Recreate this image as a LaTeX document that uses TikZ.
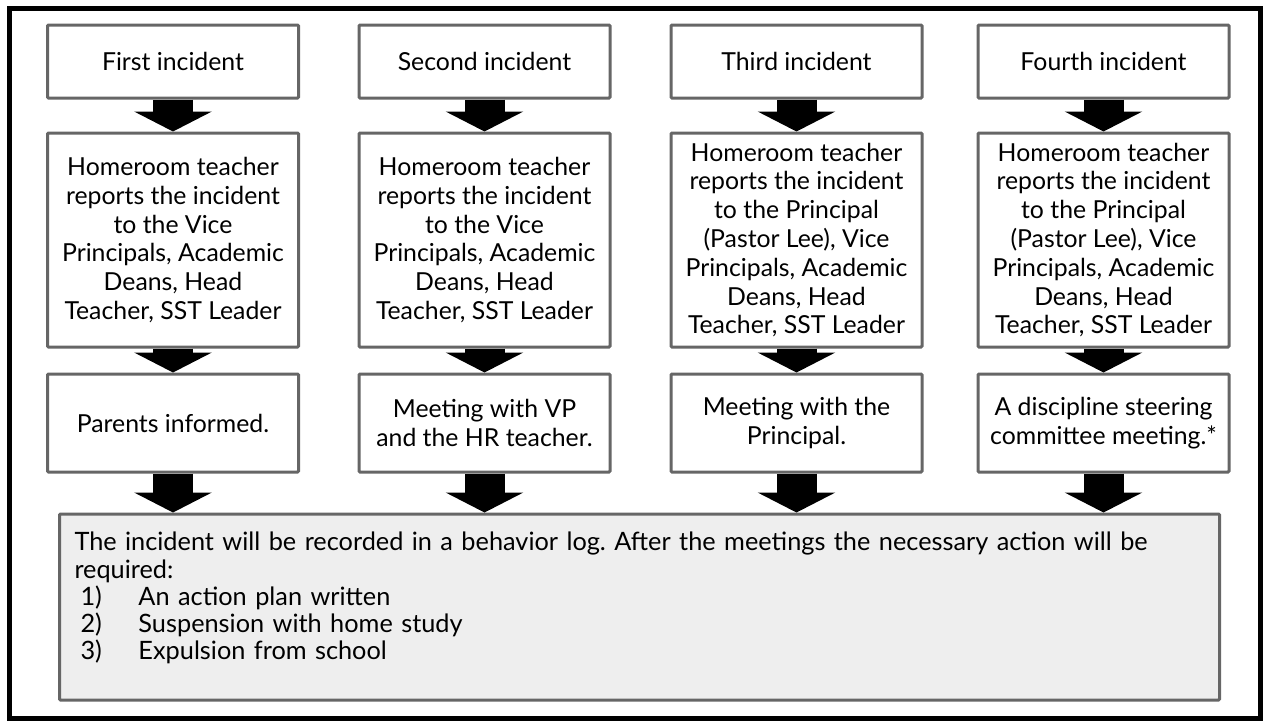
\documentclass[tikz,border=0pt]{standalone}
\usepackage{fontspec}
\setmainfont{Lato}
\usepackage{tikz}
\usetikzlibrary{arrows.meta, positioning}
\definecolor{boxgray}{RGB}{102,102,102}
\definecolor{logfill}{RGB}{238,238,238}
\newcommand{\colfont}{\fontsize{24.8}{28.8}\selectfont}
\newcommand{\logfont}{\fontsize{25.3}{27.2}\selectfont}
\frenchspacing

\begin{document}
\begin{tikzpicture}[
    x=1pt, y=-1pt,
    incbox/.style={rectangle, draw=boxgray, line width=3pt, fill=white, rounded corners=1pt, minimum width=251pt, inner sep=3pt, align=center, font=\colfont},
    logbox/.style={rectangle, draw=boxgray, line width=3pt, fill=logfill, rounded corners=1pt, minimum height=186pt, text width=1130pt, inner xsep=15pt, align=left, font=\logfont},
    blockarrow/.style={draw=black, line width=40pt, -{Triangle[width=77pt, length=20pt]}},
]
    \useasboundingbox (0,0) rectangle (1263,721);
    \draw[line width=4.5pt] (9.5,8.5) rectangle (1260.5,718.5);

    \node[incbox, minimum height=73pt] (i1) at (173,61.5) {First incident};
    \node[incbox, minimum height=73pt] (i2) at (484.5,61.5) {Second incident};
    \node[incbox, minimum height=73pt] (i3) at (796.5,61.5) {Third incident};
    \node[incbox, minimum height=73pt] (i4) at (1103.5,61.5) {Fourth incident};

    \node[incbox, minimum height=214pt, below=32pt of i1] (r1) {Homeroom teacher\\reports the incident\\to the Vice\\Principals, Academic\\Deans, Head\\Teacher, SST Leader};
    \node[incbox, minimum height=214pt, below=32pt of i2] (r2) {Homeroom teacher\\reports the incident\\to the Vice\\Principals, Academic\\Deans, Head\\Teacher, SST Leader};
    \node[incbox, minimum height=214pt, below=32pt of i3] (r3) {Homeroom teacher\\reports the incident\\to the Principal\\(Pastor Lee), Vice\\Principals, Academic\\Deans, Head\\Teacher, SST Leader};
    \node[incbox, minimum height=214pt, below=32pt of i4] (r4) {Homeroom teacher\\reports the incident\\to the Principal\\(Pastor Lee), Vice\\Principals, Academic\\Deans, Head\\Teacher, SST Leader};

    \node[incbox, minimum height=98pt, below=24pt of r1] (m1) {Parents informed.};
    \node[incbox, minimum height=98pt, below=24pt of r2] (m2) {Meeting with VP\\and the HR teacher.};
    \node[incbox, minimum height=98pt, below=24pt of r3] (m3) {Meeting with the\\Principal.};
    \node[incbox, minimum height=98pt, below=24pt of r4] (m4) {A discipline steering\\committee meeting.*};

    \node[logbox] (log) at (639.5,607) {The incident will be recorded in a behavior log. After the meetings the necessary action will be\\
        required:\\
        \hspace*{6pt}\makebox[58pt][l]{1)}An action plan written\\
        \hspace*{6pt}\makebox[58pt][l]{2)}Suspension with home study\\
        \hspace*{6pt}\makebox[58pt][l]{3)}Expulsion from school\rule[-22pt]{0pt}{1pt}};

    \draw[blockarrow] (i1) -- (r1);
    \draw[blockarrow] (i2) -- (r2);
    \draw[blockarrow] (i3) -- (r3);
    \draw[blockarrow] (i4) -- (r4);

    \draw[blockarrow] (r1) -- (m1);
    \draw[blockarrow] (r2) -- (m2);
    \draw[blockarrow] (r3) -- (m3);
    \draw[blockarrow] (r4) -- (m4);

    \draw[blockarrow] (m1) -- (m1 |- log.north);
    \draw[blockarrow] (m2) -- (m2 |- log.north);
    \draw[blockarrow] (m3) -- (m3 |- log.north);
    \draw[blockarrow] (m4) -- (m4 |- log.north);
\end{tikzpicture}
\end{document}
